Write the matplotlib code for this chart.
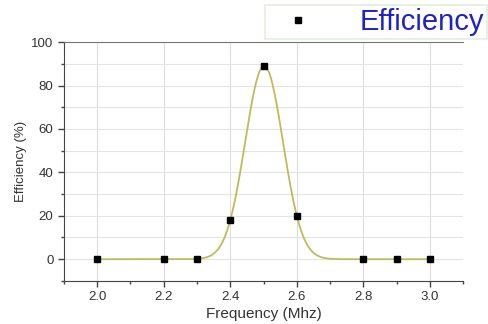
import numpy as np
import matplotlib
matplotlib.use('Agg')
import matplotlib.pyplot as plt
from matplotlib.ticker import MultipleLocator

plt.rcParams['font.family'] = ['Liberation Sans', 'DejaVu Sans']

freq = [2.0, 2.2, 2.3, 2.4, 2.5, 2.6, 2.8, 2.9, 3.0]
eff = [0, 0, 0, 18, 89, 20, 0, 0, 0]

# gaussian fit from the non-zero points (log-parabola)
fx = np.array([f for f, e in zip(freq, eff) if e > 0])
fy = np.log([e for e in eff if e > 0])
a, b, c = np.polyfit(fx, fy, 2)
xs = np.linspace(2.0, 3.0, 500)
ys = np.exp(a * xs**2 + b * xs + c)

fig = plt.figure(figsize=(4.88, 3.24), dpi=100)
ax = fig.add_axes([0.131, 0.133, 0.818, 0.737])

ax.plot(xs, ys, color='#c2ba5a', lw=1.3, zorder=2)
pts, = ax.plot(freq, eff, 's', color='black', ms=4.5, zorder=3, label='Efficiency')

ax.set_xlim(1.9, 3.1)
ax.set_ylim(-10, 100)
ax.xaxis.set_major_locator(MultipleLocator(0.2))
ax.xaxis.set_minor_locator(MultipleLocator(0.1))
ax.yaxis.set_major_locator(MultipleLocator(20))
ax.yaxis.set_minor_locator(MultipleLocator(10))
ax.set_xticks([2.0, 2.2, 2.4, 2.6, 2.8, 3.0])
ax.grid(True, which='major', axis='x', color='#dddddd', lw=0.8)
ax.grid(True, which='both', axis='y', color='#e4e4e4', lw=0.8)
ax.set_axisbelow(True)

ax.spines['right'].set_visible(False)
ax.spines['top'].set_color('#777777')
ax.spines['left'].set_color('#444444')
ax.spines['bottom'].set_color('#444444')
ax.tick_params(which='major', direction='out', length=4, width=1, colors='#444444',
               labelsize=9.5, labelcolor='#333333')
ax.tick_params(which='minor', direction='out', length=2, width=1, colors='#444444')

ax.set_xlabel('Frequency (Mhz)', fontsize=11, color='#333333', labelpad=3)
ax.set_ylabel('Efficiency (%)', fontsize=9.5, color='#333333', labelpad=3)

leg = fig.legend(handles=[pts], loc='upper right', bbox_to_anchor=(0.998, 0.985),
                 borderaxespad=0, fontsize=21, frameon=True, fancybox=False,
                 handletextpad=1.05, handlelength=2.1, borderpad=0.1, markerscale=1.1)
leg.get_frame().set_edgecolor('#d8ecd8')
leg.get_frame().set_linewidth(1.2)
for t in leg.get_texts():
    t.set_color('#2020c8')

fig.savefig('out.png', dpi=100)
